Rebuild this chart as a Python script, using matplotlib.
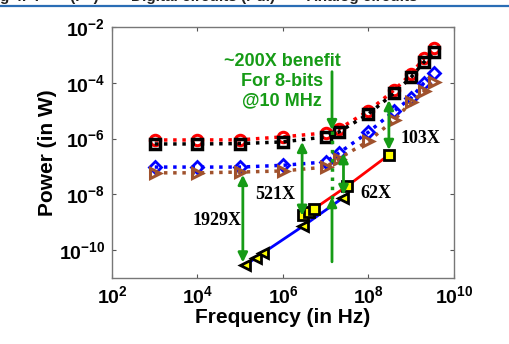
import numpy as np
import matplotlib
matplotlib.use("Agg")
import matplotlib.pyplot as plt
from matplotlib.lines import Line2D
from matplotlib.ticker import FixedLocator, FuncFormatter

# ============================================================
# DATA
# ============================================================

freq_dig = [1e3, 1e4, 1e5, 1e6, 1e7, 2e7, 1e8, 4e8, 1e9, 2e9, 3.4e9]

p_red_circ = [8.9e-7, 8.9e-7, 9.0e-7, 1.15e-6, 1.6e-6, 2.2e-6,
              9.8e-6, 5.5e-5, 2.1e-4, 7.8e-4, 1.8e-3]
p_blk_sq = [6.4e-7, 6.4e-7, 6.6e-7, 7.6e-7, 1.15e-6, 1.7e-6,
            7.6e-6, 4.3e-5, 1.6e-4, 5.6e-4, 1.26e-3]
p_blue_dia = [9.5e-8, 9.5e-8, 9.5e-8, 1.1e-7, 1.45e-7, 3.0e-7,
              1.7e-6, 9.8e-6, 2.9e-5, 1.0e-4, 2.2e-4]
p_brown_tri = [5.9e-8, 5.9e-8, 6.3e-8, 6.9e-8, 9.5e-8, 1.9e-7,
               8.1e-7, 4.7e-6, 2.0e-5, 5.0e-5, 1.07e-4]

freq_ana_blue = [1.3e5, 2.3e5, 3.4e5, 3.0e6, 2.5e7]
p_ana_blue = [2.9e-11, 5.2e-11, 7.9e-11, 7.4e-10, 7.4e-9]

freq_ana_red = [2.9e6, 4.1e6, 5.3e6, 3.2e7, 3.0e8]
p_ana_red = [1.8e-9, 2.3e-9, 3.0e-9, 2.0e-8, 2.6e-7]

# ratio arrows: frequency, lower power, upper power, label
arrow_f = [1.15e5, 2.8e6, 2.6e7, 3.0e8]
arrow_lo = [3.6e-11, 1.7e-9, 9.5e-9, 3.9e-7]
arrow_hi = [5.0e-8, 7.6e-7, 3.0e-7, 2.4e-5]
arrow_txt = ["1929X", "521X", "62X", "103X"]
label_pos = [(2.9e4, 1.2e-9), (6.5e5, 9.5e-9), (1.45e8, 1.1e-8), (1.6e9, 9.8e-7)]

# ~200X benefit arrow at 10 MHz
benefit_f = 1.4e7

green = "#169b16"
brown = "#a0522d"

# ============================================================
# STYLE
# ============================================================

plt.rcParams["font.family"] = "Liberation Sans"
plt.rcParams["font.weight"] = "bold"
plt.rcParams["mathtext.fontset"] = "custom"
plt.rcParams["mathtext.rm"] = "Liberation Sans:bold"
plt.rcParams["mathtext.bf"] = "Liberation Sans:bold"
plt.rcParams["mathtext.it"] = "Liberation Sans:bold"

fig = plt.figure(figsize=(5.10, 3.44), dpi=100)
ax = fig.add_axes([112 / 510, 1 - 278 / 344, (454 - 112) / 510, (278 - 27) / 344])

# ============================================================
# CURVES
# ============================================================

ax.plot(freq_dig, p_red_circ, ls=":", lw=2.5, color="red",
        marker="o", ms=7.5, mfc="none", mec="red", mew=2.2)
ax.plot(freq_dig, p_blk_sq, ls=":", lw=2.5, color="black",
        marker="s", ms=6.5, mfc="none", mec="black", mew=2.5)
ax.plot(freq_dig, p_blue_dia, ls=":", lw=2.5, color="blue",
        marker="D", ms=6, mfc="none", mec="blue", mew=2)
ax.plot(freq_dig, p_brown_tri, ls=":", lw=2.5, color=brown,
        marker=">", ms=7.5, mfc="none", mec=brown, mew=2.2)

ax.plot(freq_ana_blue, p_ana_blue, ls="-", lw=2, color="blue",
        marker="<", ms=7.5, mfc="yellow", mec="black", mew=2)
ax.plot(freq_ana_red, p_ana_red, ls="-", lw=2, color="red",
        marker="s", ms=6.5, mfc="yellow", mec="black", mew=2)

# ============================================================
# ANNOTATIONS
# ============================================================

arrow_kw = dict(arrowstyle="<|-|>", color=green, lw=2,
                mutation_scale=14, shrinkA=0, shrinkB=0)

for f, lo, hi in zip(arrow_f, arrow_lo, arrow_hi):
    ax.annotate("", xy=(f, hi), xytext=(f, lo), arrowprops=arrow_kw)

for (x, y), t in zip(label_pos, arrow_txt):
    ax.text(x, y, t, ha="center", va="center", fontsize=13,
            family="Liberation Serif", weight="bold")

ax.annotate("", xy=(benefit_f, 2.0e-6), xytext=(benefit_f, 2.5e-4),
            arrowprops=dict(arrowstyle="-|>", color=green, lw=2,
                            mutation_scale=14, shrinkA=0, shrinkB=0))
ax.plot([benefit_f, benefit_f], [1.8e-6, 7e-9], ls=":", lw=2.5, color=green)
ax.annotate("", xy=(benefit_f, 8e-9), xytext=(benefit_f, 3.8e-11),
            arrowprops=dict(arrowstyle="-|>", color=green, lw=2,
                            mutation_scale=14, shrinkA=0, shrinkB=0))

ax.text(9.5e5, 1.15e-4, "~200X benefit\nFor 8-bits\n@10 MHz",
        ha="center", va="center", color=green, fontsize=13,
        weight="bold", linespacing=1.2)

# ============================================================
# AXES
# ============================================================

ax.set_xscale("log")
ax.set_yscale("log")
ax.set_xlim(1e2, 1e10)
ax.set_ylim(1e-11, 1e-2)

ax.xaxis.set_major_locator(FixedLocator([1e2, 1e4, 1e6, 1e8, 1e10]))
ax.yaxis.set_major_locator(FixedLocator([1e-10, 1e-8, 1e-6, 1e-4, 1e-2]))
ax.xaxis.set_minor_locator(FixedLocator([]))
ax.yaxis.set_minor_locator(FixedLocator([]))

fmt = FuncFormatter(lambda v, p: r"$\mathbf{10^{%d}}$" % round(np.log10(v)))
ax.xaxis.set_major_formatter(fmt)
ax.yaxis.set_major_formatter(fmt)

ax.tick_params(direction="in", length=3, width=0.8, color="#555555",
               top=True, right=True, labelsize=14, pad=5)
for s in ax.spines.values():
    s.set_color("#777777")
    s.set_linewidth(1.0)

ax.set_xlabel("Frequency (in Hz)", fontsize=15, weight="bold", labelpad=1)
ax.set_ylabel("Power (in W)", fontsize=15, weight="bold", labelpad=1)

# ============================================================
# CROPPED CAPTION STRIP AT THE TOP
# ============================================================

fig.text(0.0, 1 - 1.5 / 344, "g 4.  P      (P  )  \u2014  Digital circuits (Pdl)  \u2014  Analog circuits",
         ha="left", va="baseline", fontsize=11, color="#222222")
fig.add_artist(Line2D([0, 1], [1 - 5.5 / 344, 1 - 5.5 / 344],
                      transform=fig.transFigure, color="#2a6db5", lw=1.6))

fig.savefig("out.png", dpi=100)
